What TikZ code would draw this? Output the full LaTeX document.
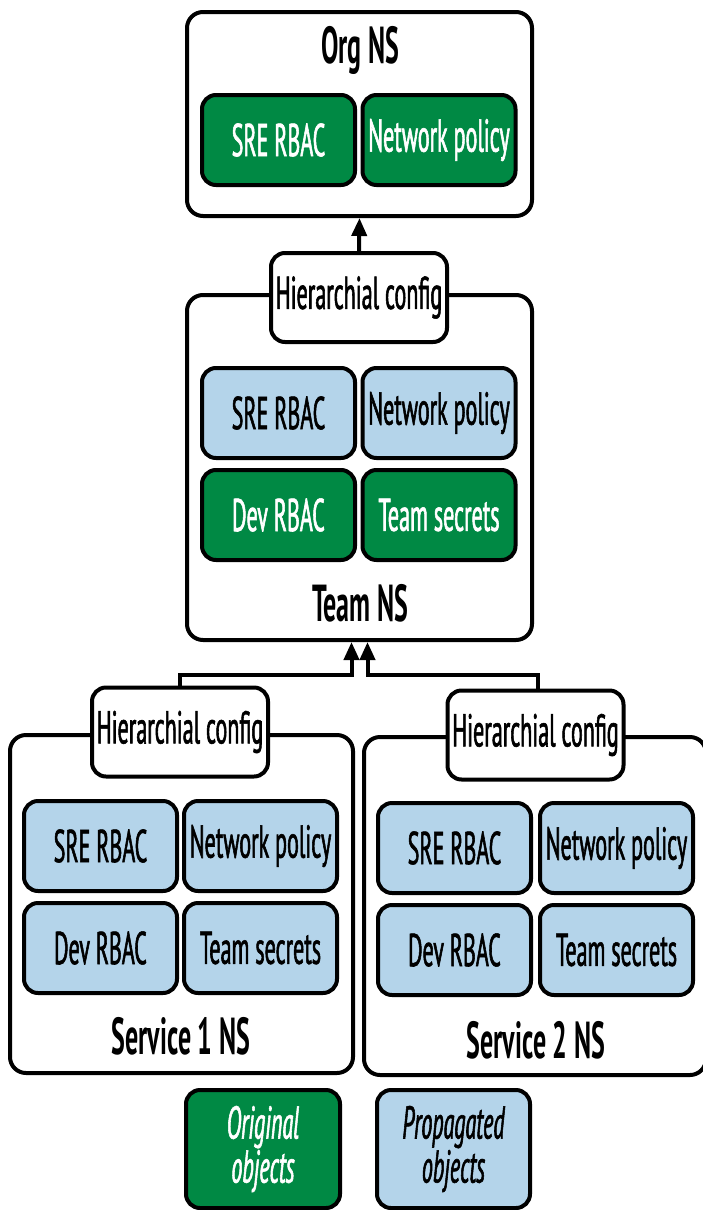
\documentclass[tikz,border=0pt]{standalone}
\usepackage{fontspec}
\setmainfont{PT Sans}[FakeStretch=0.48,FakeBold=1.2,BoldFeatures={FakeBold=0,FakeStretch=0.5}]
\usetikzlibrary{arrows.meta}
\definecolor{orig}{RGB}{0,137,68}
\definecolor{prop}{RGB}{180,212,234}
\tikzset{
  box/.style={draw=black, line width=4pt, rounded corners=14pt, align=center, inner sep=0pt, font=\fontsize{46}{46}\selectfont},
  outer/.style={box, fill=white, rounded corners=16pt},
  cfg/.style={box, fill=white, minimum width=176pt, minimum height=89pt},
  og/.style={box, fill=orig, text=white, minimum width=153pt, minimum height=90pt},
  pg/.style={box, fill=prop, text=black, minimum width=153pt, minimum height=90pt},
  title/.style={font=\fontsize{52}{52}\selectfont\bfseries, inner sep=0pt},
  conn/.style={line width=4pt, -{Triangle[length=18pt,width=15pt]}},
}
\begin{document}
\begin{tikzpicture}[x=1pt,y=-1pt]
\useasboundingbox[fill=white] (0,0) rectangle (702,1210);
% outer namespaces
\node[outer, minimum width=345pt, minimum height=204pt] (org) at (359.5,114) {};
\node[outer, minimum width=345pt, minimum height=345pt] (team) at (359.5,467.5) {};
\node[outer, minimum width=343pt, minimum height=338pt] (s1) at (181.5,904) {};
\node[outer, minimum width=342pt, minimum height=338pt] (s2) at (535,906) {};
% titles
\node[title] (orgt) at (360,50) {Org NS};
\node[title] (teamt) at (360,603) {Team NS};
\node[title] (s1t) at (181,1036) {Service 1 NS};
\node[title] (s2t) at (536,1040) {Service 2 NS};
% config boxes
\node[cfg] (cfgT) at (359,297.5) {Hierarchial config};
\node[cfg] (cfg1) at (180,732) {Hierarchial config};
\node[cfg] (cfg2) at (535.5,735) {Hierarchial config};
% org inner
\node[og] (o1) at (278.5,140) {SRE RBAC};
\node[og] (o2) at (439,140) {Network policy};
% team inner
\node[pg] (t1) at (278.5,413) {SRE RBAC};
\node[pg] (t2) at (439,413) {Network policy};
\node[og] (t3) at (278.5,515) {Dev RBAC};
\node[og] (t4) at (439,515) {Team secrets};
% service 1 inner
\node[pg] (a1) at (100.5,846) {SRE RBAC};
\node[pg] (a2) at (260.5,846) {Network policy};
\node[pg] (a3) at (100.5,948) {Dev RBAC};
\node[pg] (a4) at (260.5,948) {Team secrets};
% service 2 inner
\node[pg] (b1) at (454.5,848) {SRE RBAC};
\node[pg] (b2) at (616.5,848) {Network policy};
\node[pg] (b3) at (454.5,950) {Dev RBAC};
\node[pg] (b4) at (616.5,950) {Team secrets};
% legend
\node[og, minimum width=154pt, minimum height=118pt, font=\fontsize{46}{44}\selectfont\itshape] (lo) at (263,1149) {Original\\objects};
\node[pg, minimum width=153pt, minimum height=118pt, font=\fontsize{46}{44}\selectfont\itshape] (lp) at (453.5,1149) {Propagated\\objects};
% connectors
\coordinate (j1) at (180,675);
\coordinate (j2) at (538,675);
\draw[conn] (cfgT.north) -- (org.south);
\draw[conn] (cfg1.north) -- (j1) -| ([xshift=-8pt]team.south);
\draw[conn] (cfg2.north -| j2) -- (j2) -| ([xshift=8pt]team.south);
\end{tikzpicture}
\end{document}
